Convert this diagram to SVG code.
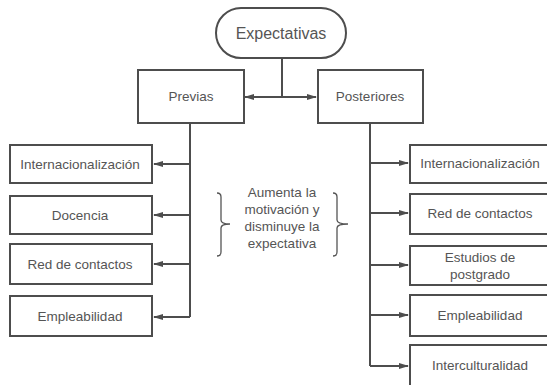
<svg xmlns="http://www.w3.org/2000/svg" width="547" height="385" viewBox="0 0 547 385">
<style>
.box{fill:#fff;stroke:#4d4d4d;stroke-width:2}
.t{font-family:"Liberation Sans",Arial,sans-serif;font-size:13.5px;fill:#555;text-anchor:middle}
.c{fill:none;stroke:#4d4d4d;stroke-width:2}
.b{fill:none;stroke:#555;stroke-width:1.3}
</style>
<defs>
<marker id="ah" markerWidth="10" markerHeight="8" refX="9" refY="4" orient="auto-start-reverse" markerUnits="userSpaceOnUse">
<path d="M0,1 L10,4 L0,7 Z" fill="#4d4d4d"/>
</marker>
</defs>
<rect width="547" height="385" fill="#fff"/>
<g id="connectors">
<path class="c" d="M282,58 V97"/>
<path class="c" d="M245,97 H316" marker-start="url(#ah)" marker-end="url(#ah)"/>
<path class="c" d="M190,123 V317"/>
<path class="c" d="M190,164 H154" marker-end="url(#ah)"/>
<path class="c" d="M190,215 H154" marker-end="url(#ah)"/>
<path class="c" d="M190,264 H154" marker-end="url(#ah)"/>
<path class="c" d="M190,317 H154" marker-end="url(#ah)"/>
<path class="c" d="M370,123 V366"/>
<path class="c" d="M370,163 H408" marker-end="url(#ah)"/>
<path class="c" d="M370,213 H408" marker-end="url(#ah)"/>
<path class="c" d="M370,265 H408" marker-end="url(#ah)"/>
<path class="c" d="M370,315 H408" marker-end="url(#ah)"/>
<path class="c" d="M370,366 H408" marker-end="url(#ah)"/>
</g>
<g id="expectativas"><rect class="box" x="216" y="8" width="130" height="50" rx="25"/><text class="t" x="281" y="39" style="font-size:16px">Expectativas</text></g>
<g id="previas"><rect class="box" x="138" y="70" width="106" height="53"/><text class="t" x="191" y="101">Previas</text></g>
<g id="posteriores"><rect class="box" x="318" y="70" width="105" height="53"/><text class="t" x="370" y="101">Posteriores</text></g>
<g id="l-intern"><rect class="box" x="10" y="145" width="142" height="38"/><text class="t" x="80" y="169">Internacionalización</text></g>
<g id="l-docencia"><rect class="box" x="10" y="196" width="142" height="38"/><text class="t" x="80" y="220">Docencia</text></g>
<g id="l-red"><rect class="box" x="10" y="244" width="142" height="40"/><text class="t" x="80" y="269">Red de contactos</text></g>
<g id="l-empl"><rect class="box" x="10" y="296" width="142" height="40"/><text class="t" x="80" y="321">Empleabilidad</text></g>
<g id="r-intern"><rect class="box" x="410" y="145" width="140" height="38"/><text class="t" x="480" y="168">Internacionalización</text></g>
<g id="r-red"><rect class="box" x="410" y="194" width="140" height="40"/><text class="t" x="480" y="218">Red de contactos</text></g>
<g id="r-estudios"><rect class="box" x="410" y="246" width="140" height="39"/><text class="t" x="480" y="262">Estudios de</text><text class="t" x="480" y="279">postgrado</text></g>
<g id="r-empl"><rect class="box" x="410" y="295" width="140" height="41"/><text class="t" x="480" y="320">Empleabilidad</text></g>
<g id="r-inter"><rect class="box" x="410" y="345" width="140" height="50"/><text class="t" x="480" y="370">Interculturalidad</text></g>
<g id="nota">
<path class="b" d="M217,193 Q221,193 221,197 V220 Q221,224 230,224 Q221,224 221,228 V252 Q221,256 217,256"/>
<path class="b" d="M333,193 Q337,193 337,197 V220 Q337,224 348,224 Q337,224 337,228 V252 Q337,256 333,256"/>
<text class="t" x="282" y="197">Aumenta la</text>
<text class="t" x="282" y="214">motivación y</text>
<text class="t" x="282" y="231">disminuye la</text>
<text class="t" x="282" y="248">expectativa</text>
</g>
</svg>
